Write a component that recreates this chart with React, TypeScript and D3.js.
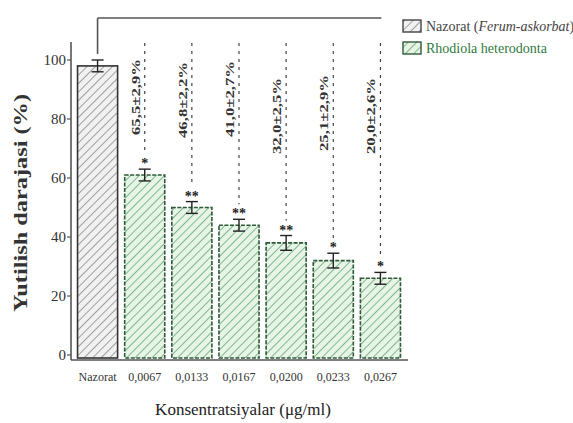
import React from "react";
import * as d3 from "d3";

const categories = ["Nazorat", "0,0067", "0,0133", "0,0167", "0,0200", "0,0233", "0,0267"];
const values = [98, 61, 50, 44, 38, 32, 26];
const errors = [2, 2, 2, 2, 2.5, 2.5, 2];
const stars = ["", "*", "**", "**", "**", "*", "*"];
const percentLabels = ["", "65,5±2,9%", "46,8±2,2%", "41,0±2,7%", "32,0±2,5%", "25,1±2,9%", "20,0±2,6%"];
const yTicks = [0, 20, 40, 60, 80, 100];
const legendLabels = ["Nazorat", "Rhodiola heterodonta"];

const W = 573;
const H = 423;
const serif = "'Liberation Serif', 'Times New Roman', serif";

export default function App() {
  const x = d3.scaleBand<string>().domain(categories).range([74, 404]).paddingInner(0.15).paddingOuter(0.075);
  const y = d3.scaleLinear().domain([0, 100]).range([355, 60]);
  const bw = x.bandwidth();
  const labelCenters = [0, 97, 100, 99, 116, 113, 116];
  const bracketY = 18;
  const dashTop = 43;

  return (
    <div style={{ position: "absolute", left: 0, top: 0 }}>
      <svg width={W} height={H} style={{ display: "block", background: "#fff" }}>
        <defs>
          <pattern id="hatchGray" patternUnits="userSpaceOnUse" width="6" height="6" patternTransform="rotate(45)">
            <rect width="6" height="6" fill="#f1f1f1" />
            <line x1="0" y1="0" x2="0" y2="6" stroke="#8a8a8a" strokeWidth="1.6" />
          </pattern>
          <pattern id="hatchGreen" patternUnits="userSpaceOnUse" width="6" height="6" patternTransform="rotate(45)">
            <rect width="6" height="6" fill="#e6f5e6" />
            <line x1="0" y1="0" x2="0" y2="6" stroke="#6aa57a" strokeWidth="1.6" />
          </pattern>
        </defs>

        {/* bars */}
        {categories.map((c, i) => {
          const x0 = x(c)!;
          const top = y(values[i]);
          const isCtrl = i === 0;
          return (
            <rect
              key={"bar" + i}
              x={x0}
              y={top}
              width={bw}
              height={y(0) + 3 - top}
              fill={isCtrl ? "url(#hatchGray)" : "url(#hatchGreen)"}
              stroke={isCtrl ? "#333" : "#2f5a38"}
              strokeWidth={1.6}
              strokeDasharray={isCtrl ? undefined : "4 1.5"}
            />
          );
        })}

        {/* error bars */}
        {categories.map((c, i) => {
          const cx = x(c)! + bw / 2;
          const hi = y(values[i] + errors[i]);
          const lo = y(values[i] - errors[i]);
          return (
            <g key={"err" + i} stroke="#222" strokeWidth={1.4}>
              <line x1={cx} x2={cx} y1={hi} y2={lo} />
              <line x1={cx - 6} x2={cx + 6} y1={hi} y2={hi} />
              <line x1={cx - 6} x2={cx + 6} y1={lo} y2={lo} />
            </g>
          );
        })}

        {/* stars and dashed connector lines */}
        {categories.map((c, i) => {
          if (!stars[i]) return null;
          const cx = x(c)! + bw / 2;
          const tip = y(values[i] + errors[i]);
          const starY = tip - 5;
          return (
            <g key={"st" + i}>
              <line x1={cx} x2={cx} y1={dashTop} y2={starY - 10} stroke="#444" strokeWidth={1.2} strokeDasharray="3 5" />
              <text x={cx} y={starY + 4} textAnchor="middle" fontFamily={serif} fontWeight="bold" fontSize={14} fill="#222">
                {stars[i]}
              </text>
            </g>
          );
        })}

        {/* rotated percent labels */}
        {categories.map((c, i) => {
          if (!percentLabels[i]) return null;
          const lx = x(c)! + bw / 2 - 9;
          const ly = labelCenters[i];
          return (
            <text
              key={"pl" + i}
              transform={`translate(${lx},${ly}) rotate(-90)`}
              textAnchor="middle"
              dominantBaseline="central"
              fontFamily={serif}
              fontWeight="bold"
              fontSize={11.5}
              textLength={76}
              lengthAdjust="spacingAndGlyphs"
              fill="#333"
            >
              {percentLabels[i]}
            </text>
          );
        })}

        {/* bracket */}
        {(() => {
          const x1 = x(categories[0])! + bw / 2;
          const x2 = x(categories[categories.length - 1])! + bw / 2 + 1;
          return (
            <g stroke="#555" strokeWidth={1.6} fill="none">
              <line x1={x1} x2={x2} y1={bracketY} y2={bracketY} />
              <line x1={x1} x2={x1} y1={bracketY} y2={y(values[0] + errors[0]) - 6} />
            </g>
          );
        })()}

        {/* axes */}
        <line x1={71} x2={71} y1={42} y2={360} stroke="#555" strokeWidth={1.6} />
        <line x1={71} x2={408} y1={360} y2={360} stroke="#555" strokeWidth={1.6} />
        {yTicks.map((t) => (
          <g key={"yt" + t}>
            <line x1={67} x2={71} y1={y(t)} y2={y(t)} stroke="#555" strokeWidth={1.2} />
            <text x={66} y={y(t)} textAnchor="end" dominantBaseline="central" fontFamily={serif} fontSize={15} fill="#333">
              {t}
            </text>
          </g>
        ))}
        {categories.map((c) => (
          <text key={"xt" + c} x={x(c)! + bw / 2} y={381} textAnchor="middle" fontFamily={serif} fontSize={12} fill="#333">
            {c}
          </text>
        ))}

        {/* axis titles */}
        <text x={243} y={415} textAnchor="middle" fontFamily={serif} fontSize={17} fill="#222">
          Konsentratsiyalar (μg/ml)
        </text>
        <text
          transform="translate(20,203) rotate(-90)"
          textAnchor="middle"
          dominantBaseline="central"
          fontFamily={serif}
          fontWeight="bold"
          fontSize={19}
          textLength={218}
          lengthAdjust="spacingAndGlyphs"
          fill="#333"
        >
          Yutilish darajasi (%)
        </text>

        {/* legend */}
        <rect x={403} y={20} width={18} height={12} fill="url(#hatchGray)" stroke="#444" strokeWidth={1.4} />
        <text x={426} y={26} dominantBaseline="central" fontFamily={serif} fontSize={14} fill="#444">
          {legendLabels[0]} (<tspan fontStyle="italic">Ferum-askorbat</tspan>)
        </text>
        <rect x={403} y={42} width={18} height={12} fill="url(#hatchGreen)" stroke="#2f5a38" strokeWidth={1.4} />
        <text x={426} y={48} dominantBaseline="central" fontFamily={serif} fontSize={14} fill="#2f7a40">
          {legendLabels[1]}
        </text>
      </svg>
    </div>
  );
}
